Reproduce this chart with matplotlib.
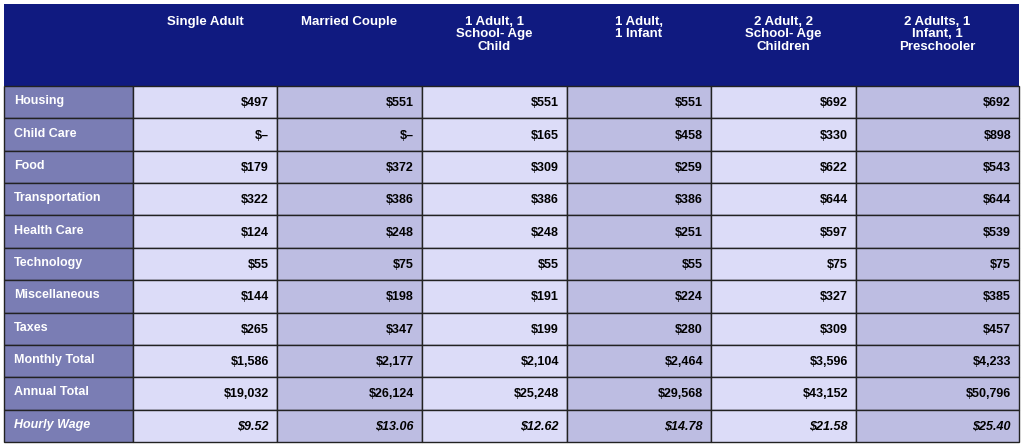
import matplotlib
matplotlib.use("Agg")
import matplotlib.pyplot as plt
from matplotlib.patches import Rectangle

columns = ["Single Adult", "Married Couple", "1 Adult, 1\nSchool- Age\nChild", "1 Adult,\n1 Infant",
           "2 Adult, 2\nSchool- Age\nChildren", "2 Adults, 1\nInfant, 1\nPreschooler"]
rows = ["Housing", "Child Care", "Food", "Transportation", "Health Care", "Technology",
        "Miscellaneous", "Taxes", "Monthly Total", "Annual Total", "Hourly Wage"]
housing = ["$497", "$551", "$551", "$551", "$692", "$692"]
child_care = ["$–", "$–", "$165", "$458", "$330", "$898"]
food = ["$179", "$372", "$309", "$259", "$622", "$543"]
transportation = ["$322", "$386", "$386", "$386", "$644", "$644"]
health_care = ["$124", "$248", "$248", "$251", "$597", "$539"]
technology = ["$55", "$75", "$55", "$55", "$75", "$75"]
miscellaneous = ["$144", "$198", "$191", "$224", "$327", "$385"]
taxes = ["$265", "$347", "$199", "$280", "$309", "$457"]
monthly_total = ["$1,586", "$2,177", "$2,104", "$2,464", "$3,596", "$4,233"]
annual_total = ["$19,032", "$26,124", "$25,248", "$29,568", "$43,152", "$50,796"]
hourly_wage = ["$9.52", "$13.06", "$12.62", "$14.78", "$21.58", "$25.40"]
values = [housing, child_care, food, transportation, health_care, technology,
          miscellaneous, taxes, monthly_total, annual_total, hourly_wage]

W, H = 1023, 448
fig = plt.figure(figsize=(W/100, H/100), dpi=100)
ax = fig.add_axes([0, 0, 1, 1])
ax.set_xlim(0, W); ax.set_ylim(H, 0); ax.axis("off")

xe = [4, 133, 277, 422, 567, 711, 856, 1019]
top, hb, bot = 4, 86, 442
rh = (bot - hb) / len(rows)
font = "Liberation Sans"
HEAD = "#101a80"; LAB = "#7a7db4"; LIGHT = "#dcdcf8"; DARK = "#bdbde2"

ax.add_patch(Rectangle((xe[0], top), xe[-1]-xe[0], hb-top, fc=HEAD, ec="none"))
for j, c in enumerate(columns):
    cx = (xe[j+1] + xe[j+2]) / 2
    ax.text(cx, 16, c, ha="center", va="top", color="white", fontsize=9.5,
            fontweight="bold", family=font, linespacing=1.05)

for i, r in enumerate(rows):
    y0 = hb + i*rh
    it = "italic" if r == "Hourly Wage" else "normal"
    ax.add_patch(Rectangle((xe[0], y0), xe[1]-xe[0], rh, fc=LAB, ec="#222222", lw=1))
    ax.text(xe[0]+10, y0+rh/2 - 1, r, ha="left", va="center", color="white", fontsize=9,
            fontweight="bold", style=it, family=font)
    for j in range(6):
        fc = LIGHT if j % 2 == 0 else DARK
        ax.add_patch(Rectangle((xe[j+1], y0), xe[j+2]-xe[j+1], rh, fc=fc, ec="#222222", lw=1))
        ax.text(xe[j+2]-8, y0+rh/2 + 1, values[i][j], ha="right", va="center", color="black",
                fontsize=9, fontweight="bold", style=it, family=font)

fig.savefig("out.png", dpi=100)
